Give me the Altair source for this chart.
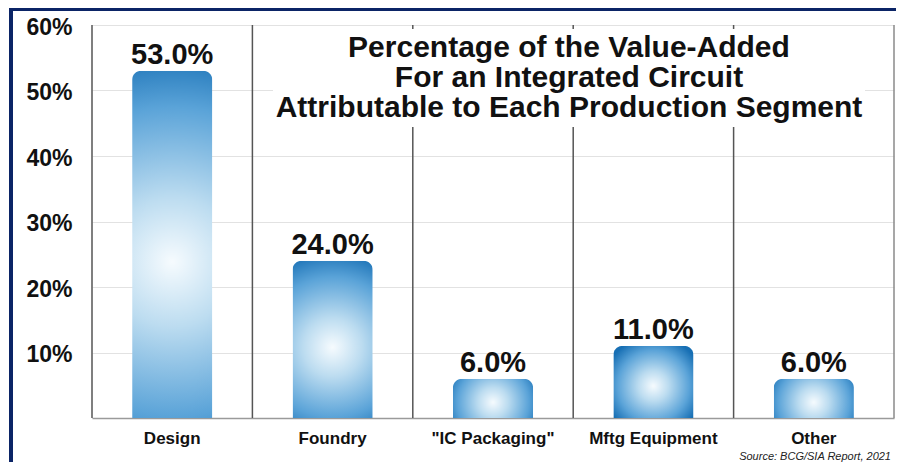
import altair as alt
import pandas as pd

categories = ["Design", "Foundry", "\"IC Packaging\"", "Mftg Equipment", "Other"]
values = [53.0, 24.0, 6.0, 11.0, 6.0]
tick_values = [0, 10, 20, 30, 40, 50, 60]
title_lines = [
    "Percentage of the Value-Added",
    "For an Integrated Circuit",
    "Attributable to Each Production Segment",
]
source_text = "Source: BCG/SIA Report, 2021"

df = pd.DataFrame({"segment": categories, "value": values})
df["label"] = [f"{v:.1f}%" for v in values]
one = pd.DataFrame({"k": [0]})

W, H = 802, 393
FONT = "Liberation Sans"
NAVY = "#0b2466"

x_axis = alt.Axis(title=None, labelAngle=0)
x_enc = alt.X("segment:N", sort=categories,
              scale=alt.Scale(paddingInner=0, paddingOuter=0), axis=x_axis)
y_enc = alt.Y("value:Q", scale=alt.Scale(domain=[0, 60], nice=False),
              axis=alt.Axis(title=None, values=tick_values,
                            labelExpr="datum.value == 0 ? '' : datum.value + '%'"))

gradient = {
    "gradient": "radial",
    "x1": 0.5, "y1": 0.55, "x2": 0.5, "y2": 0.55,
    "r1": 0, "r2": 0.62,
    "stops": [
        {"offset": 0, "color": "#f6fbfe"},
        {"offset": 0.3, "color": "#bcdcf0"},
        {"offset": 0.72, "color": "#5aa3d8"},
        {"offset": 1, "color": "#176fb4"},
    ],
}

base = alt.Chart(df)

sep = base.mark_rule(color="#555555", strokeWidth=1.5).encode(
    x=alt.X("segment:N", sort=categories, bandPosition=0,
            scale=alt.Scale(paddingInner=0, paddingOuter=0), axis=x_axis)
)
right_edge = alt.Chart(one).mark_rule(color="#8a8a8a", strokeWidth=1.5).encode(
    x=alt.value(W)
)
box = alt.Chart(one).mark_rect(color="white").encode(
    x=alt.value(181), x2=alt.value(773), y=alt.value(4), y2=alt.value(102)
)
title = alt.Chart(one).mark_text(
    font=FONT, fontSize=30, fontWeight="bold", color="#111111",
    align="center", baseline="alphabetic", lineHeight=30,
).encode(x=alt.value(477), y=alt.value(32), text=alt.value(title_lines))

bars = base.mark_bar(
    width={"band": 0.5}, cornerRadiusTopLeft=9, cornerRadiusTopRight=9,
    color=gradient,
).encode(x=x_enc, y=y_enc)

labels = base.mark_text(
    font=FONT, fontSize=29, fontWeight="bold", color="#111111",
    baseline="alphabetic", dy=-7,
).encode(x=x_enc, y=y_enc, text="label:N")

source = alt.Chart(one).mark_text(
    font=FONT, fontSize=11, fontStyle="italic", color="#222222",
    align="right", baseline="alphabetic",
).encode(x=alt.value(W - 3), y=alt.value(H + 42), text=alt.value(source_text))

left_border = alt.Chart(one).mark_rect(color=NAVY).encode(
    x=alt.value(-83), x2=alt.value(-79), y=alt.value(-17), y2=alt.value(H + 44)
)
top_border = alt.Chart(one).mark_rect(color=NAVY).encode(
    x=alt.value(-83), x2=alt.value(W + 2), y=alt.value(-17), y2=alt.value(-14)
)

chart = alt.layer(
    sep, right_edge, box, title, bars, labels, source, left_border, top_border
).properties(
    width=W, height=H,
    autosize=alt.AutoSizeParams(type="none"),
    padding={"left": 84, "top": 17, "right": 2, "bottom": 44},
    background="white",
).configure_view(stroke=None).configure_axisY(
    labelFont=FONT, labelFontSize=23, labelFontWeight="bold", labelColor="#111111",
    labelPadding=20, ticks=False, tickSize=0, domain=False,
    grid=True, gridColor="#e2e2e2", gridWidth=1, labelOffset=2,
).configure_axisX(
    labelFont=FONT, labelFontSize=17, labelFontWeight="bold", labelColor="#111111",
    labelPadding=12, ticks=False, tickSize=0, domain=True,
    domainColor="#9a9a9a", domainWidth=1.5, grid=False,
)

chart.save("out.html", embed_options={"renderer": "svg", "actions": False})
